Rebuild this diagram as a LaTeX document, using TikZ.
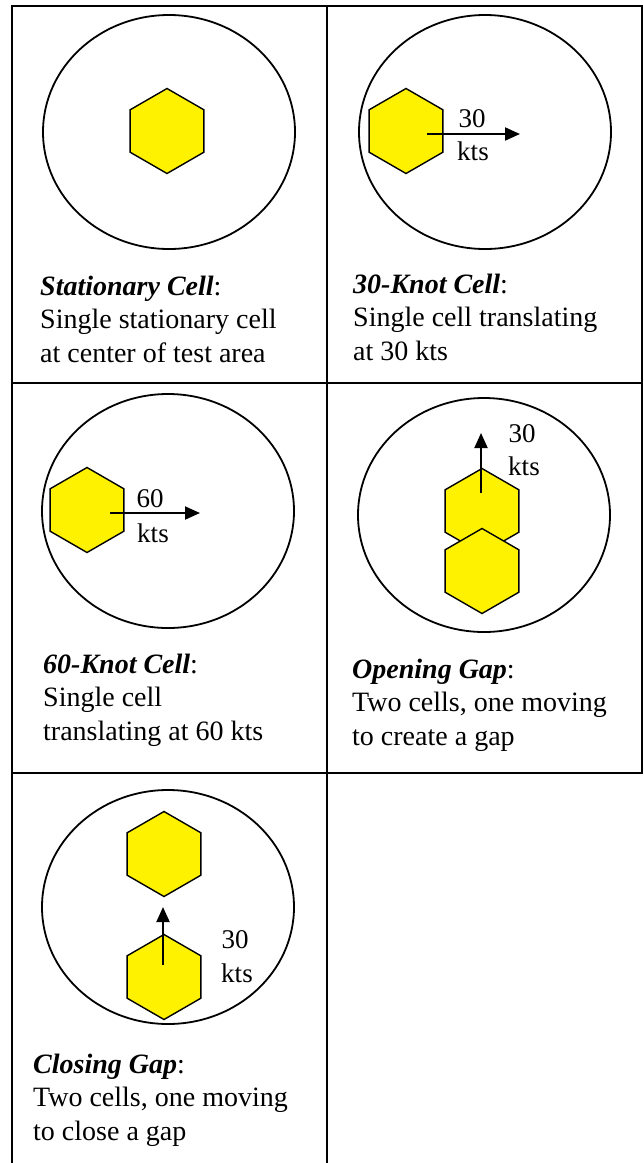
\documentclass[tikz,border=0pt]{standalone}
\usepackage{fontspec}
\setmainfont{Liberation Serif}
\usetikzlibrary{positioning, shapes.geometric, arrows.meta}

\begin{document}
\begin{tikzpicture}[
        x=1pt, y=-1pt,
        gridline/.style={line width=2.5pt, black},
        area/.style={ellipse, draw, line width=1.8pt, minimum width=252pt,
                     minimum height=234pt, inner sep=0pt},
        hexcell/.style={regular polygon, regular polygon sides=6,
                        shape border rotate=30, draw, fill=yellow,
                        line width=1.4pt, minimum size=85pt, inner sep=0pt},
        motion/.style={-{Triangle[length=15pt, width=13pt]}, line width=2pt},
        speed/.style={font=\fontsize{27}{33}\selectfont, anchor=base, inner sep=0pt},
        caption/.style={font=\fontsize{28}{33.5}\selectfont, align=left,
                        anchor=base west, inner sep=0pt},
    ]
    \useasboundingbox (0,0) rectangle (644,1163);

    % ---- Table grid ----
    \draw[gridline] (12,6) rectangle (642,773);
    \draw[gridline] (12,383) -- (642,383);
    \draw[gridline] (327,6) -- (327,1163);
    \draw[gridline] (12,773) -- (12,1163);

    % ---- Test areas ----
    \node[area] (area1) at (169,132) {};
    \node[area] (area2) at (485,132) {};
    \node[area] (area3) at (168,511) {};
    \node[area] (area4) at (484,515) {};
    \node[area] (area5) at (168,907) {};

    % ---- Cells ----
    \node[hexcell] (cell1) at (167,131) {};
    \node[hexcell] (cell2) at (406,131) {};
    \node[hexcell] (cell3) at (87,510) {};
    \node[hexcell] (cell4a) at (482,511) {};
    \node[hexcell] (cell4b) at (482,571) {};
    \node[hexcell] (cell5a) at (164,854) {};
    \node[hexcell] (cell5b) at (164,977) {};

    % ---- Motion arrows ----
    \coordinate (go2) at (427,134);  \coordinate (to2) at (520,134);
    \coordinate (go3) at (110,513);  \coordinate (to3) at (200,513);
    \coordinate (go4) at (481,493);  \coordinate (to4) at (481,433);
    \coordinate (go5) at (163,965);  \coordinate (to5) at (163,907);
    \foreach \i in {2,...,5} {
        \draw[motion] (go\i) -- (to\i);
    }

    % ---- Speed labels ----
    \node[speed] (spd2) at (472,127) {30};
    \node[speed] (kts2) at (473,160) {kts};
    \node[speed] (spd3) at (150,507) {60};
    \node[speed] (kts3) at (153,542) {kts};
    \node[speed] (spd4) at (522,442) {30};
    \node[speed] (kts4) at (524,475) {kts};
    \node[speed] (spd5) at (235,948) {30};
    \node[speed] (kts5) at (237,982) {kts};

    % ---- Captions (anchored on last line) ----
    \node[caption] (cap1) at (40,362)
        {\textbf{\textit{Stationary Cell}}:\\Single stationary cell\\at center of test area};
    \node[caption] (cap2) at (353,360)
        {\textbf{\textit{30-Knot Cell}}:\\Single cell translating\\at 30 kts};
    \node[caption] (cap3) at (43,740)
        {\textbf{\textit{60-Knot Cell}}:\\Single cell\\translating at 60 kts};
    \node[caption] (cap4) at (352,745)
        {\textbf{\textit{Opening Gap}}:\\Two cells, one moving\\to create a gap};
    \node[caption] (cap5) at (33,1140)
        {\textbf{\textit{Closing Gap}}:\\Two cells, one moving\\to close a gap};

    \end{tikzpicture}
\end{document}
